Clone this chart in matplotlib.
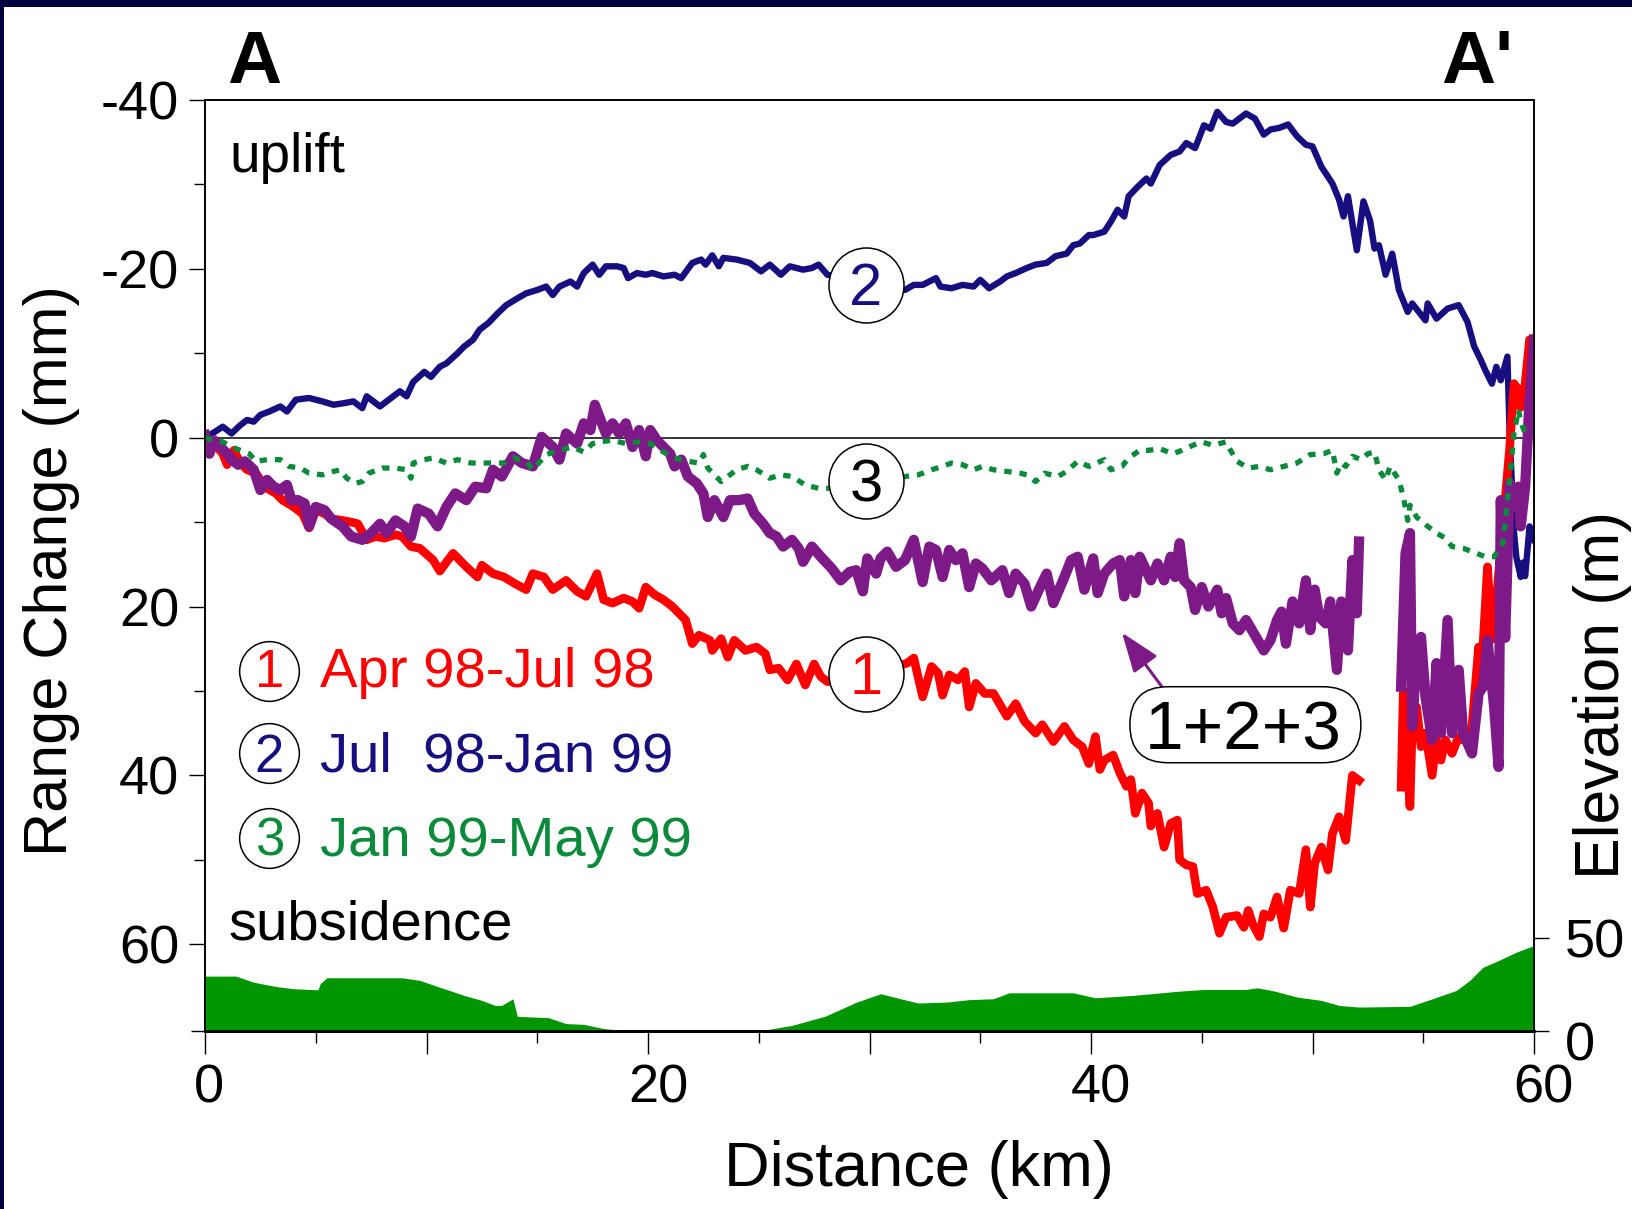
import numpy as np
import matplotlib
matplotlib.use("Agg")
import matplotlib.pyplot as plt
from matplotlib.patches import Rectangle, FancyBboxPatch
from matplotlib.transforms import IdentityTransform, ScaledTranslation
from matplotlib.ticker import FixedLocator

plt.rcParams['font.family'] = ['Liberation Sans', 'DejaVu Sans']

nan = np.nan

# ---------------- profile data (distance in km, range change in mm) ----------------
# 1: Apr 98 - Jul 98
red_km = [0.0, 0.4, 0.8, 1.0, 1.3, 1.6, 1.9, 2.3, 2.6, 2.8, 3.2, 3.5, 4.0, 4.4, 4.7, 5.0, 5.4, 5.7, 6.2, 6.6,
          6.9, 7.3, 7.7, 8.1, 8.6, 8.9, 9.3, 9.7, 10.3, 10.6, 11.2, 11.8, 12.3, 12.5, 13.0, 13.5, 14.0, 14.5,
          14.8, 15.3, 15.7, 16.3, 16.8, 17.2, 17.7, 18.0, 18.4, 18.9, 19.3, 19.6, 19.9, 20.3, 20.7, 21.1,
          21.4, 21.7, 22.0, 22.3, 22.8, 22.9, 23.3, 23.6, 23.9, 24.4, 24.9, 25.3, 25.5, 25.9, 26.3, 26.7,
          27.1, 27.5, 27.8, 28.1, 29.0, 30.8, 31.7, 32.0, 32.4, 32.8, 33.1, 33.3, 33.6, 34.0, 34.3, 34.5,
          34.8, 35.2, 35.6, 36.2, 36.6, 37.0, 37.5, 37.8, 38.3, 38.8, 39.2, 39.6, 39.9, 40.2, 40.4, 40.6,
          41.0, 41.3, 41.6, 41.8, 42.0, 42.3, 42.6, 42.7, 43.0, 43.3, 43.6, 43.9, 44.0, 44.3, 44.6, 44.8,
          45.2, 45.5, 45.8, 46.1, 46.6, 46.9, 47.1, 47.3, 47.6, 47.8, 48.1, 48.4, 48.7, 49.0, 49.4, 49.7,
          49.9, 50.1, 50.4, 50.7, 50.9, 51.2, 51.5, 51.8, 52.1, 53.0, 54.0, 54.1, 54.4, 54.5, 54.7, 54.9,
          55.1, 55.4, 55.6, 55.8, 56.0, 56.3, 56.6, 56.8, 57.2, 57.5, 57.6, 57.9, 58.1, 58.3, 58.7, 58.9,
          59.1, 59.3, 59.4, 59.6, 59.8, 60.0]
red_mm = [0.0, 0.7, 1.9, 3.2, 1.5, 3.0, 3.8, 4.2, 5.4, 6.0, 6.6, 7.4, 8.2, 9.0, 10.7, 8.6, 9.0, 9.6, 9.8, 10.0,
          10.2, 12.1, 11.7, 11.9, 11.5, 11.7, 12.9, 13.1, 14.5, 15.8, 13.7, 15.3, 16.5, 15.1, 16.1, 16.5,
          17.3, 18.0, 16.1, 16.5, 18.0, 16.9, 18.2, 18.8, 16.1, 19.2, 19.6, 19.0, 19.4, 20.2, 17.7, 18.6,
          19.2, 20.0, 20.8, 21.6, 24.4, 23.4, 24.0, 25.2, 23.8, 26.0, 24.0, 25.2, 24.8, 25.6, 27.5, 27.3,
          28.7, 26.8, 29.3, 26.8, 28.3, 28.9, 28.5, 27.5, 26.7, 26.1, 30.7, 27.1, 27.9, 30.5, 28.1, 28.7,
          27.7, 31.9, 29.1, 30.3, 30.3, 33.0, 31.5, 33.6, 35.0, 34.0, 36.0, 34.2, 35.8, 36.6, 38.6, 35.4,
          39.3, 38.2, 37.6, 39.7, 41.3, 40.5, 44.5, 42.1, 43.3, 46.0, 44.5, 48.5, 45.7, 45.3, 50.0, 50.6,
          50.8, 54.0, 53.6, 55.6, 58.7, 56.8, 56.6, 58.0, 56.0, 57.6, 59.1, 56.4, 56.8, 54.4, 58.1, 53.6,
          54.0, 48.8, 55.6, 50.4, 48.5, 51.2, 46.9, 44.9, 47.7, 40.0, 40.6, nan, 41.4, 29.9, 43.7, 34.2,
          31.9, 36.6, 35.0, 40.0, 35.8, 38.2, 35.8, 37.4, 35.4, 35.8, 34.2, 24.8, 29.1, 15.3, 23.9, 19.2,
          7.2, 1.3, -6.4, -5.6, -3.6, -6.4, -11.6, -11.8]

# 2: Jul 98 - Jan 99
blue_km = [0.0, 0.45, 0.8, 1.2, 1.6, 1.9, 2.2, 2.5, 2.9, 3.4, 3.7, 4.1, 4.7, 5.3, 5.8, 6.3, 6.7, 7.1, 7.3, 7.9,
           8.3, 8.8, 9.1, 9.4, 9.9, 10.2, 10.6, 10.9, 11.4, 11.7, 12.1, 12.4, 12.8, 13.2, 13.6, 14.1, 14.5,
           15.0, 15.4, 15.7, 16.0, 16.5, 16.8, 17.1, 17.5, 17.8, 18.1, 18.6, 18.9, 19.1, 19.5, 19.9, 20.2,
           20.7, 21.2, 21.5, 22.0, 22.4, 22.6, 22.9, 23.2, 23.4, 24.0, 24.6, 25.1, 25.5, 26.0, 26.4, 27.0,
           27.4, 27.7, 28.1, 29.0, 30.5, 31.6, 32.0, 32.4, 33.0, 33.2, 33.7, 34.2, 34.7, 35.0, 35.4, 35.9,
           36.2, 36.6, 37.1, 37.5, 38.0, 38.4, 38.9, 39.2, 39.5, 39.9, 40.1, 40.6, 40.9, 41.2, 41.5, 41.7,
           42.1, 42.5, 42.7, 43.1, 43.6, 44.0, 44.3, 44.7, 45.1, 45.4, 45.7, 46.1, 46.4, 47.0, 47.4, 47.8,
           48.1, 48.5, 48.9, 49.3, 49.7, 50.0, 50.4, 50.9, 51.2, 51.4, 51.6, 52.0, 52.3, 52.6, 52.8, 53.0,
           53.3, 53.6, 53.9, 54.3, 54.5, 55.1, 55.2, 55.6, 56.1, 56.6, 57.0, 57.3, 57.6, 57.8, 58.1, 58.3,
           58.5, 58.8, 58.9, 59.1, 59.2, 59.4, 59.5, 59.6, 59.8, 60.0]
blue_mm = [0.0, -0.7, -1.3, -0.5, -1.5, -2.1, -1.9, -2.7, -3.1, -3.7, -3.1, -4.5, -4.7, -4.3, -3.9, -4.1, -4.3,
           -3.5, -4.9, -3.7, -4.5, -5.5, -4.9, -6.6, -7.8, -7.2, -8.4, -8.8, -10.0, -10.8, -11.6, -12.8,
           -13.6, -14.7, -15.7, -16.5, -17.1, -17.5, -17.9, -16.9, -17.9, -18.5, -17.9, -19.5, -20.5, -19.3,
           -20.3, -20.3, -20.1, -18.9, -19.5, -19.3, -19.5, -19.1, -19.3, -18.9, -20.7, -21.1, -20.5, -21.6,
           -20.3, -21.3, -21.1, -20.7, -19.7, -20.5, -19.3, -20.3, -19.9, -20.1, -20.5, -19.3, -18.8, -18.0,
           -17.5, -18.1, -18.1, -18.9, -17.9, -17.7, -18.1, -17.9, -18.7, -17.7, -18.5, -19.1, -19.5, -20.1,
           -20.5, -20.7, -21.5, -21.8, -22.8, -23.0, -24.0, -24.0, -24.4, -25.6, -27.0, -26.2, -28.6, -29.7,
           -30.7, -30.1, -32.3, -33.5, -33.9, -34.9, -34.3, -37.0, -36.6, -38.6, -37.4, -37.2, -38.4, -37.8,
           -35.9, -36.5, -36.7, -37.1, -35.7, -34.7, -34.5, -32.1, -30.1, -28.2, -26.2, -28.6, -22.2, -28.0,
           -25.7, -22.4, -22.8, -19.3, -21.8, -17.5, -14.9, -15.9, -13.9, -15.9, -14.1, -15.3, -15.7, -13.7,
           -10.8, -9.2, -8.0, -6.4, -8.4, -6.8, -9.6, -0.5, 11.3, 14.1, 16.5, 14.8, 16.4, 10.5, 12.1]

# 3: Jan 99 - May 99
green_km = [0.0, 0.4, 0.8, 1.4, 2.0, 2.3, 2.8, 3.4, 3.8, 4.3, 4.7, 5.3, 5.8, 6.1, 6.4, 6.8, 7.1, 7.4, 8.0, 8.6,
            9.1, 9.3, 9.4, 9.9, 10.3, 10.9, 11.4, 12.0, 12.4, 13.0, 13.5, 13.9, 14.5, 14.8, 15.4, 16.0, 16.6,
            17.1, 17.5, 17.8, 18.4, 19.0, 19.6, 20.1, 20.7, 21.2, 21.8, 22.3, 22.5, 22.7, 23.3, 23.6, 24.0,
            24.5, 24.9, 25.5, 26.0, 26.5, 27.1, 27.7, 28.1, 29.8, 31.6, 32.2, 32.8, 33.3, 33.7, 34.2, 34.7,
            35.1, 35.6, 36.2, 36.8, 37.1, 37.5, 37.9, 38.5, 38.9, 39.4, 39.9, 40.1, 40.6, 40.9, 41.4, 41.7,
            42.2, 42.6, 43.1, 43.7, 44.1, 44.6, 45.0, 45.5, 45.8, 46.1, 46.3, 46.6, 47.1, 47.6, 48.1, 48.7,
            49.3, 49.9, 50.5, 50.9, 51.1, 51.3, 51.5, 51.8, 52.2, 52.5, 52.8, 53.0, 53.3, 53.5, 53.9, 54.1,
            54.3, 54.4, 54.7, 55.2, 55.6, 56.0, 56.3, 56.8, 57.2, 57.8, 58.2, 58.6, 58.9, 59.1, 59.3, 59.4,
            59.6]
green_mm = [0.0, 0.3, 0.5, 1.3, 1.9, 2.8, 2.6, 2.6, 3.4, 3.6, 4.2, 4.4, 4.0, 3.8, 4.8, 5.4, 5.2, 4.2, 3.6, 3.6,
            3.8, 4.8, 3.0, 2.6, 2.4, 3.0, 2.6, 3.0, 3.0, 3.0, 3.0, 2.4, 2.8, 3.8, 2.0, 1.5, 1.1, 1.7, 0.7, 0.5,
            0.3, 0.7, 0.5, 0.7, 1.7, 2.4, 2.8, 3.0, 2.0, 3.6, 5.2, 4.6, 3.8, 3.4, 3.8, 4.8, 4.4, 4.6, 5.6, 6.0,
            6.0, 5.5, 4.6, 4.4, 3.8, 3.4, 3.0, 3.2, 3.8, 3.4, 3.8, 4.0, 4.2, 4.4, 5.2, 4.2, 4.6, 4.0, 2.8, 3.4,
            3.2, 2.6, 3.8, 3.4, 2.4, 1.5, 1.5, 1.3, 1.9, 1.5, 0.9, 0.5, 0.9, 0.7, 0.5, 1.5, 2.8, 3.6, 3.4, 3.8,
            3.4, 3.0, 2.0, 1.9, 1.5, 4.2, 3.0, 3.4, 2.2, 2.6, 1.9, 1.7, 3.8, 5.0, 3.4, 5.0, 7.0, 9.8, 8.0, 9.4,
            10.5, 11.3, 11.9, 12.9, 13.1, 13.5, 14.1, 14.1, 12.5, 5.0, -0.6, -3.3, -1.9, -0.5]

# 1+2+3: cumulative
purple_km = [0.0, 0.2, 0.4, 0.7, 1.0, 1.2, 1.5, 1.8, 2.2, 2.5, 2.8, 3.1, 3.4, 3.7, 3.9, 4.2, 4.5, 4.7, 5.0, 5.4,
             5.7, 6.2, 6.6, 7.1, 7.5, 7.9, 8.2, 8.6, 9.0, 9.3, 9.6, 10.1, 10.5, 10.9, 11.3, 11.8, 12.2, 12.7,
             13.0, 13.4, 13.9, 14.3, 14.8, 15.2, 15.7, 16.0, 16.3, 16.8, 17.1, 17.4, 17.6, 17.8, 18.1, 18.4,
             18.7, 19.0, 19.3, 19.6, 19.9, 20.1, 20.4, 20.7, 21.0, 21.2, 21.5, 21.8, 22.2, 22.5, 22.7, 23.0,
             23.4, 23.7, 24.1, 24.5, 24.8, 25.2, 25.5, 25.8, 26.1, 26.5, 26.8, 27.0, 27.4, 27.8, 28.3, 28.7,
             29.1, 29.4, 29.7, 29.9, 30.3, 30.5, 30.8, 31.2, 31.6, 32.0, 32.4, 32.7, 33.0, 33.3, 33.6, 33.9,
             34.2, 34.5, 34.8, 35.1, 35.5, 36.0, 36.3, 36.6, 37.0, 37.3, 37.7, 38.0, 38.3, 38.8, 39.1, 39.4,
             39.7, 40.1, 40.3, 40.6, 41.0, 41.3, 41.5, 41.8, 42.0, 42.2, 42.7, 43.0, 43.3, 43.6, 43.8, 44.0,
             44.2, 44.5, 44.7, 45.0, 45.3, 45.7, 45.9, 46.1, 46.4, 46.7, 47.0, 47.4, 47.8, 48.1, 48.4, 48.6,
             48.8, 49.1, 49.4, 49.7, 49.9, 50.1, 50.3, 50.6, 50.8, 51.1, 51.3, 51.6, 51.8, 52.0, 52.1, 53.0,
             54.0, 54.2, 54.4, 54.5, 54.7, 54.9, 55.1, 55.4, 55.6, 55.8, 56.1, 56.3, 56.6, 56.8, 57.2, 57.5,
             57.7, 57.9, 58.2, 58.4, 58.5, 58.7, 58.9, 59.1, 59.3, 59.4, 59.6, 59.8, 60.0]
purple_mm = [-0.3, 1.9, 0.3, 1.1, 1.9, 2.6, 3.2, 2.8, 3.8, 6.2, 5.0, 5.8, 6.2, 5.6, 7.4, 7.4, 7.8, 10.5, 8.2, 8.6,
             9.6, 10.5, 11.7, 12.1, 11.3, 10.2, 11.3, 9.8, 10.5, 11.7, 8.4, 9.0, 10.5, 8.2, 6.6, 7.4, 5.8, 6.0,
             3.8, 4.6, 2.2, 3.0, 3.4, -0.1, 1.1, 2.6, -0.5, 0.7, -1.7, -0.9, -3.9, -2.5, -0.5, -1.7, -0.5, -1.7,
             1.1, -0.9, 2.2, -0.9, 0.3, 1.1, 1.9, 3.4, 2.6, 4.6, 5.4, 6.6, 9.4, 7.4, 9.4, 7.4, 7.4, 7.2, 9.0,
             10.2, 11.3, 11.7, 12.9, 12.1, 13.1, 14.7, 12.9, 14.1, 15.5, 16.9, 15.9, 15.7, 18.2, 14.3, 16.1,
             14.3, 13.5, 15.3, 14.5, 12.1, 17.1, 12.9, 13.3, 16.5, 13.3, 14.5, 13.7, 17.7, 14.9, 15.5, 16.9,
             15.7, 18.4, 16.1, 17.3, 20.0, 17.7, 16.1, 19.6, 16.5, 14.5, 14.1, 18.0, 14.3, 18.4, 16.1, 14.9,
             14.5, 18.8, 14.5, 18.4, 14.1, 16.9, 14.9, 16.9, 14.1, 16.5, 12.5, 16.9, 17.7, 20.4, 17.7, 20.0,
             18.0, 20.8, 19.0, 22.0, 22.8, 21.6, 23.4, 25.2, 24.0, 21.6, 20.6, 24.4, 19.4, 22.0, 16.9, 22.8,
             18.0, 21.2, 22.0, 19.4, 27.5, 19.4, 25.2, 14.5, 20.8, 12.3, nan, 29.5, 13.7, 11.3, 34.2, 25.9,
             23.6, 30.7, 35.8, 26.7, 35.0, 21.6, 35.0, 27.5, 35.0, 37.4, 30.3, 29.5, 24.0, 31.9, 39.0, 7.4,
             23.7, 5.4, 8.1, 5.8, 10.5, 5.8, -4.4, -11.6]

# topography along the profile (km, m)
elev_km = [0.0, 1.4, 2.2, 3.2, 4.0, 5.1, 5.2, 5.5, 8.9, 9.7, 10.5, 11.7, 12.5, 13.1, 13.4, 13.9, 14.1, 15.5,
           16.3, 17.1, 18.0, 19.0, 19.5, 25.0, 26.5, 28.0, 29.4, 30.5, 31.4, 32.2, 33.5, 34.5, 35.6, 36.3,
           39.2, 40.2, 41.9, 44.0, 45.1, 47.0, 47.5, 48.3, 49.3, 50.4, 51.2, 52.1, 54.4, 55.2, 56.5, 57.1,
           57.7, 58.4, 59.2, 60.0]
elev_m = [29.6, 29.6, 26.3, 24.0, 22.8, 22.2, 25.5, 28.7, 28.7, 27.3, 24.0, 19.2, 16.5, 13.8, 13.8, 17.4, 7.9,
          7.2, 4.0, 3.6, 1.3, 0.2, 0.0, 0.0, 3.0, 8.0, 15.5, 20.1, 17.4, 15.1, 15.6, 16.9, 17.4, 20.6, 20.6,
          17.9, 19.2, 21.5, 22.4, 22.4, 23.3, 21.5, 18.3, 16.5, 13.8, 12.9, 13.3, 16.5, 21.9, 27.3, 34.4,
          38.0, 42.5, 46.1]

x_major = [0, 10, 20, 30, 40, 50, 60]
x_major_labels = ['0', '', '20', '', '40', '', '60']
x_minor = [5, 15, 25, 35, 45, 55]
y_major = [-40, -20, 0, 20, 40, 60]
y_major_labels = ['-40', '-20', '0', '20', '40', '60']
y_minor = [-30, -10, 10, 30, 50]
elev_ticks = [0, 50]
elev_tick_labels = ['0', '50']

legend_labels = ['Apr 98-Jul 98', 'Jul  98-Jan 99', 'Jan 99-May 99']

RED = '#ff0000'
NAVY = '#170f80'
GREEN = '#0a8a3a'
PURPLE = '#7e1a88'
TOPO = '#009600'
FRAME = '#00003f'

W, H = 1632, 1209
fig = plt.figure(figsize=(W / 100, H / 100), dpi=100, facecolor='white')

# slide frame strips
fig.patches.append(Rectangle((0, 1 - 7 / H), 1, 7 / H, transform=fig.transFigure,
                             facecolor=FRAME, edgecolor='none', zorder=0))
fig.patches.append(Rectangle((0, 0), 4 / W, 1, transform=fig.transFigure,
                             facecolor=FRAME, edgecolor='none', zorder=0))

ax = fig.add_axes([205 / W, 1 - 1031 / H, (1534 - 205) / W, (1031 - 100) / H])
ax.set_xlim(0, 60)
ax.set_ylim(70.28, -40)

ax2 = ax.twinx()
ax2.set_ylim(0, 502)

# topography
ax2.fill_between(elev_km, 0, elev_m, color=TOPO, lw=0, zorder=1)

# zero line
ax.axhline(0, color='black', lw=1.1, zorder=1)

# range-change profiles
ax.plot(blue_km, blue_mm, color=NAVY, lw=4.6, zorder=2, solid_joinstyle='round')
ax.plot(red_km, red_mm, color=RED, lw=6.2, zorder=3, solid_joinstyle='round')
ax.plot(purple_km, purple_mm, color=PURPLE, lw=7.4, zorder=4, solid_joinstyle='round')
ax.plot(green_km, green_mm, color=GREEN, lw=3.8, ls=(0, (1.4, 1.5)), zorder=4.5,
        dash_capstyle='butt')

# circled curve labels
for (cx, cy, by, txt, col) in [(29.84, -18.1, -15.7, '2', NAVY),
                               (29.84, 5.1, 7.6, '3', 'black'),
                               (29.84, 28.0, 30.4, '1', RED)]:
    ax.plot([cx], [cy], marker='o', ms=54, mfc='white', mec='black', mew=1.1, zorder=6)
    ax.text(cx, by, txt, color=col, fontsize=43, ha='center', va='baseline', zorder=7)

# legend
leg_colors = [RED, NAVY, GREEN]
leg_centers = [27.6, 37.4, 47.4]
leg_baselines = [29.5, 39.6, 49.5]
for i, (lab, col) in enumerate(zip(legend_labels, leg_colors)):
    ax.plot([2.9], [leg_centers[i]], marker='o', ms=43, mfc='white', mec='black', mew=1.1, zorder=6)
    ax.text(2.9, leg_baselines[i], str(i + 1), color=col, fontsize=38, ha='center',
            va='baseline', zorder=7)
    ax.text(5.19, leg_baselines[i], lab, color=col, fontsize=40.5, ha='left', va='baseline', zorder=7)

ax.text(1.1, -31.5, 'uplift', fontsize=39.5, ha='left', va='baseline')
ax.text(1.05, 59.4, 'subsidence', fontsize=40.5, ha='left', va='baseline')

# cumulative label in a rounded box with arrow
bx, by = ax.transData.transform((46.97, 34.0))
bw, bh = 231, 76
box = FancyBboxPatch((bx - bw / 2, by - bh / 2), bw, bh,
                     boxstyle='round,pad=0,rounding_size=38',
                     transform=IdentityTransform(), facecolor='white', edgecolor='black',
                     lw=1.1, zorder=6)
ax.add_patch(box)
ax.text(46.85, 36.9, '1+2+3', fontsize=50, ha='center', va='baseline', zorder=7)
ax.annotate('', xy=(41.4, 23.1), xytext=(43.2, 29.5),
            arrowprops=dict(arrowstyle='-|>,head_length=1.22,head_width=0.45',
                            mutation_scale=20, color=PURPLE, lw=2.2,
                            shrinkA=0, shrinkB=0), zorder=5)

# axes styling
ax.xaxis.set_major_locator(FixedLocator(x_major))
ax.set_xticklabels(x_major_labels)
ax.xaxis.set_minor_locator(FixedLocator(x_minor))
ax.tick_params(axis='x', which='major', direction='out', length=16.5, width=1.0,
               labelsize=39, pad=7, top=False)
ax.tick_params(axis='x', which='minor', direction='out', length=8.6, width=1.0, top=False)

ax.yaxis.set_major_locator(FixedLocator(y_major))
ax.set_yticklabels(y_major_labels)
ax.yaxis.set_minor_locator(FixedLocator(y_minor))
ax.tick_params(axis='y', which='major', direction='out', length=11.5, width=1.0,
               labelsize=39, pad=7, right=False)
ax.tick_params(axis='y', which='minor', direction='out', length=8.0, width=1.0, right=False)

ax2.yaxis.set_major_locator(FixedLocator(elev_ticks))
ax2.set_yticklabels(elev_tick_labels)
ax2.yaxis.remove_overlapping_locs = False
ax2.yaxis.set_minor_locator(FixedLocator([0]))
ax2.tick_params(axis='y', which='major', direction='out', length=10.5, width=1.0,
                labelsize=39, pad=12, left=False, right=True)
ax2.tick_params(axis='y', which='minor', direction='out', length=10.0, width=1.0,
                left=True, right=False)

for a in (ax, ax2):
    for s in ('left', 'right', 'top'):
        a.spines[s].set_linewidth(1.2)
    a.spines['bottom'].set_linewidth(2.0)

# x labels sit slightly right of their ticks; the elevation "0" sits a little low
x_shift = {'0': 0.04, '20': 0.10, '40': 0.10, '60': 0.09}
for t in ax.xaxis.get_major_ticks():
    s = t.label1.get_text()
    if s in x_shift:
        t.label1.set_transform(t.label1.get_transform()
                               + ScaledTranslation(x_shift[s], 0, fig.dpi_scale_trans))
for t in ax2.yaxis.get_major_ticks()[:1]:
    t.label2.set_transform(t.label2.get_transform() + ScaledTranslation(0, -0.10, fig.dpi_scale_trans))

ax.set_xlabel('Distance (km)', fontsize=45.5)
ax.xaxis.label.set_va('baseline')
ax.xaxis.set_label_coords(0.537, -0.167)

ax.set_ylabel('Range Change (mm)', fontsize=44)
ax.yaxis.label.set_rotation_mode('anchor')
ax.yaxis.label.set_va('baseline')
ax.yaxis.set_label_coords(-0.104, 0.495)

ax2.set_ylabel('Elevation (m)', fontsize=45, rotation=90)
ax2.yaxis.label.set_rotation_mode('anchor')
ax2.yaxis.label.set_va('baseline')
ax2.yaxis.label.set_ha('center')
ax2.yaxis.set_label_coords(1.0636, 0.361)

# section end markers
fig.text(227 / W, 1 - 83 / H, 'A', fontsize=54, fontweight='bold', ha='left', va='baseline')
fig.text(1441.5 / W, 1 - 83 / H, "A'", fontsize=54, fontweight='bold', ha='left', va='baseline')

fig.savefig('out.png', dpi=100, facecolor=fig.get_facecolor())
